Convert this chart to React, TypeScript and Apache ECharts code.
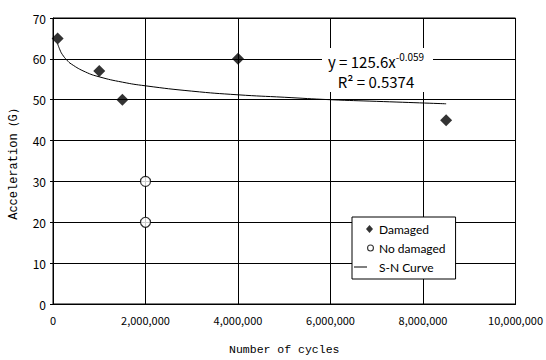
import React, { useEffect, useRef } from "react";
import * as echarts from "echarts";

const damagedX = [100000, 1000000, 1500000, 4000000, 8500000];
const damagedY = [65, 57, 50, 60, 45];
const noDamagedX = [2000000, 2000000];
const noDamagedY = [30, 20];
// S-N curve points
const curveX = [100000, 150000, 200000, 300000, 400000, 700000, 1000000, 1500000, 2000000, 3000000, 4000000, 5000000, 6000000, 7000000, 8500000];
const curveY = [63.7, 62.2, 61.1, 59.7, 58.7, 56.8, 55.6, 54.3, 53.4, 52.1, 51.2, 50.6, 50.0, 49.6, 49.0];
const xTicks = [0, 2000000, 4000000, 6000000, 8000000, 10000000];
const yTicks = [0, 10, 20, 30, 40, 50, 60, 70];

const fmt = (v: number) => v.toLocaleString("en-US");

// legend icons drawn in a 20x9 box (corner anchors keep 1:1 scale)
const anchors = "M0,0L0.001,0L0.001,0.001Z M19.999,8.999L20,8.999L20,9Z ";
const diamondIcon = "path://" + anchors + "M15.5,0.5L19,4.5L15.5,8.5L12,4.5Z";
const circleIcon =
  "path://" + anchors +
  "M13,4.5A3.5,3.5 0 1,0 20,4.5A3.5,3.5 0 1,0 13,4.5Z M14.1,4.5A2.4,2.4 0 1,1 18.9,4.5A2.4,2.4 0 1,1 14.1,4.5Z";
const lineIcon = "path://" + anchors + "M0,4L13,4L13,5L0,5Z";

export default function App() {
  const ref = useRef<HTMLDivElement>(null);
  useEffect(() => {
    if (!ref.current) return;
    const chart = echarts.init(ref.current, null, { renderer: "svg" });
    const numFont = "Noto Sans CJK JP";
    chart.setOption({
      animation: false,
      backgroundColor: "#fff",
      grid: { left: 52, right: 29, top: 18, bottom: 48, show: true, borderColor: "#000", borderWidth: 1 },
      xAxis: {
        type: "value",
        min: xTicks[0],
        max: xTicks[xTicks.length - 1],
        interval: xTicks[1] - xTicks[0],
        name: "Number of cycles",
        nameLocation: "middle",
        nameGap: 39,
        nameTextStyle: { fontFamily: "Liberation Mono", fontSize: 11.5, color: "#000" },
        axisLine: { lineStyle: { color: "#000" } },
        axisTick: { show: false },
        axisLabel: { formatter: (v: number) => fmt(v), fontFamily: numFont, fontSize: 11, color: "#000", margin: 10 },
        splitLine: { show: true, lineStyle: { color: "#000", width: 1 } },
      },
      yAxis: {
        type: "value",
        min: yTicks[0],
        max: yTicks[yTicks.length - 1],
        interval: yTicks[1] - yTicks[0],
        name: "Acceleration（G）",
        nameLocation: "middle",
        nameGap: 33,
        nameTextStyle: { fontFamily: "Liberation Mono", fontSize: 12, color: "#000" },
        axisLine: { show: true, lineStyle: { color: "#000" } },
        axisTick: { show: true, length: 3, lineStyle: { color: "#000" } },
        axisLabel: { fontFamily: numFont, fontSize: 12, color: "#000", margin: 7 },
        splitLine: { show: true, lineStyle: { color: "#000", width: 1 } },
      },
      legend: {
        orient: "vertical",
        left: 352,
        top: 217,
        backgroundColor: "#fff",
        borderColor: "#000",
        borderWidth: 1,
        borderRadius: 0,
        padding: [6, 10, 6, 2],
        itemGap: 7,
        itemWidth: 20,
        itemHeight: 9,
        textStyle: { fontFamily: "Lato", fontSize: 12, color: "#000" },
        data: [
          { name: "Damaged", icon: diamondIcon, itemStyle: { color: "#000", borderWidth: 0 } },
          { name: "No damaged", icon: circleIcon, itemStyle: { color: "#000", borderWidth: 0 } },
          { name: "S-N Curve", icon: lineIcon, itemStyle: { color: "#000", borderWidth: 0 } },
        ],
      },
      series: [
        {
          name: "S-N Curve",
          type: "line",
          data: curveX.map((x, i) => [x, curveY[i]]),
          smooth: true,
          symbol: "none",
          lineStyle: { color: "#000", width: 1 },
          itemStyle: { color: "#000" },
          z: 3,
        },
        {
          name: "Damaged",
          type: "scatter",
          data: damagedX.map((x, i) => [x, damagedY[i]]),
          symbol: "diamond",
          symbolSize: 12,
          itemStyle: { color: "#000" },
          z: 4,
        },
        {
          name: "No damaged",
          type: "scatter",
          data: noDamagedX.map((x, i) => [x, noDamagedY[i]]),
          symbol: "circle",
          symbolSize: 10,
          itemStyle: { color: "#fff", borderColor: "#000", borderWidth: 1.2 },
          z: 4,
        },
      ],
      graphic: [
        {
          type: "rect",
          shape: { x: 322, y: 48, width: 111, height: 44 },
          style: { fill: "#fff" },
          z: 10,
        },
        {
          type: "text",
          x: 376,
          y: 51,
          z: 11,
          style: {
            text: "{a|y = 125.6x}{s|-0.059}\n{a|R² = 0.5374}",
            align: "center",
            fill: "#000",
            rich: {
              a: { fontFamily: numFont, fontSize: 15, lineHeight: 20, fill: "#000" },
              s: { fontFamily: numFont, fontSize: 10, verticalAlign: "top", lineHeight: 20, padding: [0, 0, 8, 0], fill: "#000" },
            },
          },
        },
      ],
    });
    return () => chart.dispose();
  }, []);
  return <div ref={ref} style={{ width: 546, height: 360, position: "absolute", left: 0, top: 0 }} />;
}
